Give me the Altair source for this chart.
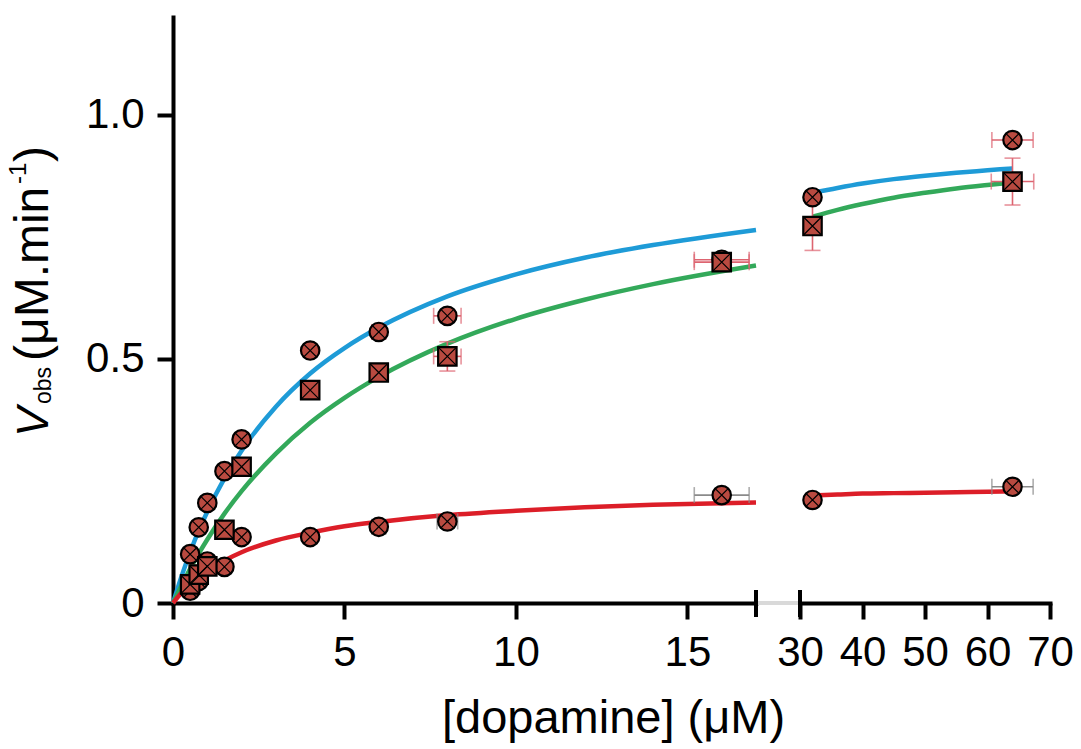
import altair as alt
import pandas as pd

# ---------------- data ----------------
conc = [0.5, 0.75, 1.0, 1.5, 2.0, 4.0, 6.0, 8.0, 16.0, 32.0, 64.0]

v_blue  = [0.100, 0.155, 0.205, 0.270, 0.335, 0.517, 0.555, 0.588, 0.703, 0.831, 0.948]
v_green = [0.038, 0.058, 0.075, 0.150, 0.279, 0.436, 0.472, 0.505, 0.698, 0.772, 0.863]
v_red   = [0.025, 0.045, 0.085, 0.074, 0.135, 0.135, 0.156, 0.167, 0.221, 0.211, 0.238]

xerr_blue  = [0, 0, 0, 0, 0, 0, 0.2, 0.4, 0.8, 0.3, 3.3]
yerr_blue  = [0, 0, 0, 0, 0, 0, 0.01, 0.012, 0.012, 0.012, 0]
xerr_green = [0, 0, 0, 0, 0, 0, 0.1, 0.4, 0.8, 0, 3.4]
yerr_green = [0, 0.02, 0, 0, 0, 0, 0, 0.03, 0.012, 0.05, 0.048]
xerr_red   = [0, 0, 0, 0, 0, 0, 0.2, 0.3, 0.8, 0.5, 3.3]
yerr_red   = [0, 0, 0, 0, 0, 0, 0, 0, 0, 0, 0]

# fitted curves
fit_x_left  = [0, 0.25, 0.5, 0.75, 1, 1.5, 2, 3, 4, 5, 6, 8, 10, 12, 14, 17]
fit_blue_l  = [0, 0.055, 0.104, 0.148, 0.187, 0.255, 0.312, 0.402, 0.470, 0.522, 0.564, 0.628, 0.673, 0.707, 0.733, 0.764]
fit_green_l = [0, 0.036, 0.070, 0.101, 0.130, 0.183, 0.229, 0.306, 0.369, 0.420, 0.463, 0.531, 0.582, 0.621, 0.653, 0.691]
fit_red_l   = [0, 0.021, 0.038, 0.053, 0.066, 0.087, 0.104, 0.128, 0.144, 0.157, 0.166, 0.180, 0.189, 0.196, 0.201, 0.206]

fit_x_right  = [32, 36, 40, 45, 50, 55, 60, 64]
fit_blue_r   = [0.840, 0.850, 0.859, 0.868, 0.875, 0.881, 0.886, 0.890]
fit_green_r  = [0.791, 0.805, 0.817, 0.830, 0.840, 0.849, 0.856, 0.861]
fit_red_r    = [0.220, 0.222, 0.224, 0.225, 0.226, 0.227, 0.228, 0.229]

series_names = ["blue", "green", "red"]
line_colors = ["#1e9bd7", "#33a95a", "#dc1e28"]
err_colors = {"blue": "#dd6470", "green": "#dd6470", "red": "#8a8a8a"}

left_ticks = [0, 5, 10, 15]
right_ticks = [30, 40, 50, 60, 70]
y_ticks = [0, 0.5, 1.0]

FONT = "Liberation Sans"
FILL = "#b94a40"

# ---------------- tables ----------------
pts = []
for s, vs, xe, ye in [("blue", v_blue, xerr_blue, yerr_blue),
                      ("green", v_green, xerr_green, yerr_green),
                      ("red", v_red, xerr_red, yerr_red)]:
    for c, v, a, b in zip(conc, vs, xe, ye):
        pts.append({"series": s, "conc": c, "v": v, "xerr": a, "yerr": b,
                    "xlo": c - a, "xhi": c + a, "ylo": v - b, "yhi": v + b,
                    "ecol": err_colors[s]})
pts = pd.DataFrame(pts)

fit_rows = []
for s, ys in zip(series_names, [fit_blue_l, fit_green_l, fit_red_l]):
    for x, y in zip(fit_x_left, ys):
        fit_rows.append({"series": s, "x": x, "v": y, "side": "left"})
for s, ys in zip(series_names, [fit_blue_r, fit_green_r, fit_red_r]):
    for x, y in zip(fit_x_right, ys):
        fit_rows.append({"series": s, "x": x, "v": y, "side": "right"})
fits = pd.DataFrame(fit_rows)

W_L, W_R, H, GAP = 583, 250, 586, 44

yscale = alt.Scale(domain=[0, 1.2], nice=False, zero=False)
yaxis = alt.Axis(values=y_ticks, title=None,
                 labelExpr="datum.value == 0 ? '0' : format(datum.value, '.1f')")

color_scale = alt.Scale(domain=series_names, range=line_colors)


def panel(side):
    if side == "left":
        xs = alt.Scale(domain=[0, 17], nice=False, zero=False)
        xa = alt.Axis(values=left_ticks, title=None, labelFlush=False, labelOverlap=False)
        ya = yaxis
        d = pts[pts["conc"] <= 17]
        w = W_L
    else:
        xs = alt.Scale(domain=[30, 70], nice=False, zero=False)
        xa = alt.Axis(values=right_ticks, title=None, labelFlush=False, labelOverlap=False)
        ya = None
        d = pts[pts["conc"] >= 30]
        w = W_R

    def X(f):
        return alt.X(f + ":Q", scale=xs, axis=xa)

    def Y(f):
        return alt.Y(f + ":Q", scale=yscale, axis=ya)

    f = fits[fits["side"] == side]
    lines = alt.Chart(f).mark_line(strokeWidth=4.5, interpolate="monotone").encode(
        x=X("x"), y=Y("v"),
        color=alt.Color("series:N", scale=color_scale, legend=None),
        detail="series:N")

    dx = d[d["xerr"] > 0]
    dy = d[d["yerr"] > 0]
    ecol = alt.Color("ecol:N", scale=None)
    xbars = alt.Chart(dx).mark_rule(strokeWidth=1.6).encode(
        x=X("xlo"), x2="xhi:Q", y=Y("v"), color=ecol)
    xcap_lo = alt.Chart(dx).mark_tick(orient="vertical", size=16, thickness=1.6).encode(
        x=X("xlo"), y=Y("v"), color=ecol)
    xcap_hi = alt.Chart(dx).mark_tick(orient="vertical", size=16, thickness=1.6).encode(
        x=X("xhi"), y=Y("v"), color=ecol)
    ybars = alt.Chart(dy).mark_rule(strokeWidth=1.6).encode(
        x=X("conc"), y=Y("ylo"), y2="yhi:Q", color=ecol)
    ycap_lo = alt.Chart(dy).mark_tick(orient="horizontal", size=16, thickness=1.6).encode(
        x=X("conc"), y=Y("ylo"), color=ecol)
    ycap_hi = alt.Chart(dy).mark_tick(orient="horizontal", size=16, thickness=1.6).encode(
        x=X("conc"), y=Y("yhi"), color=ecol)

    layers = [lines, xbars, xcap_lo, xcap_hi, ybars, ycap_lo, ycap_hi]

    xcross_c = "M-0.7,-0.7L0.7,0.7M-0.7,0.7L0.7,-0.7"
    xcross_s = "M-1,-1L1,1M-1,1L1,-1"
    for s, shape, cross in [("red", "circle", xcross_c), ("blue", "circle", xcross_c),
                            ("green", "square", xcross_s)]:
        ds = d[d["series"] == s]
        layers.append(alt.Chart(ds).mark_point(
            shape=shape, filled=True, fill=FILL, stroke="black", strokeWidth=2.2,
            size=340, opacity=1).encode(x=X("conc"), y=Y("v")))
        layers.append(alt.Chart(ds).mark_point(
            shape=cross, filled=False, stroke="black", strokeWidth=1.2,
            size=340, opacity=1).encode(x=X("conc"), y=Y("v")))

    # axis break marks
    brk = 17 if side == "left" else 30
    layers.append(alt.Chart(pd.DataFrame({"b": [brk]})).mark_rule(
        color="black", strokeWidth=4).encode(
        x=X("b"), y=alt.value(H - 13), y2=alt.value(H + 14)))

    if side == "left":
        layers.append(alt.Chart(pd.DataFrame({"g": [0]})).mark_rule(
            color="#d9d9d9", strokeWidth=4).encode(
            x=alt.value(W_L + 2), x2=alt.value(W_L + GAP - 2), y=alt.value(H)))
        # x-axis title (shared by both segments)
        layers.append(alt.Chart(pd.DataFrame({"t": ["[dopamine] (μM)"]})).mark_text(
            font=FONT, fontSize=47, color="black", align="center",
            baseline="alphabetic").encode(
            text="t:N", x=alt.value((W_L + GAP + W_R) / 2 + 2), y=alt.value(716)))
        # y-axis title pieces: (text, baseline x, start y, size, style)
        pieces = [
            ("V", -125, 420, 45, "italic"),
            ("obs", -122, 387, 23, "normal"),
            ("(", -125, 344, 48, "normal"),
            ("μM.min", -125, 328, 48, "normal"),
            ("-1", -147, 167, 24, "normal"),
            (")", -125, 145, 48, "normal"),
        ]
        for t, px, py, fs, st in pieces:
            layers.append(alt.Chart(pd.DataFrame({"t": [t]})).mark_text(
                font=FONT, fontSize=fs, fontStyle=st, color="black", angle=270,
                align="left", baseline="alphabetic").encode(
                text="t:N", x=alt.value(px), y=alt.value(py)))

    return alt.layer(*layers).properties(width=w, height=H)


chart = alt.hconcat(panel("left"), panel("right"), spacing=GAP, bounds="flush").properties(
    padding={"left": 7, "top": 17, "right": 5, "bottom": 3}
).configure_view(stroke=None).configure_axis(
    domainColor="black", domainWidth=4, domainCap="square",
    tickColor="black", tickWidth=4, tickSize=16,
    labelFont=FONT, labelFontSize=42, labelColor="black", grid=False
).configure_axisX(labelPadding=13).configure_axisY(labelPadding=13)

chart.save("out.html", embed_options={"renderer": "svg", "actions": False})
